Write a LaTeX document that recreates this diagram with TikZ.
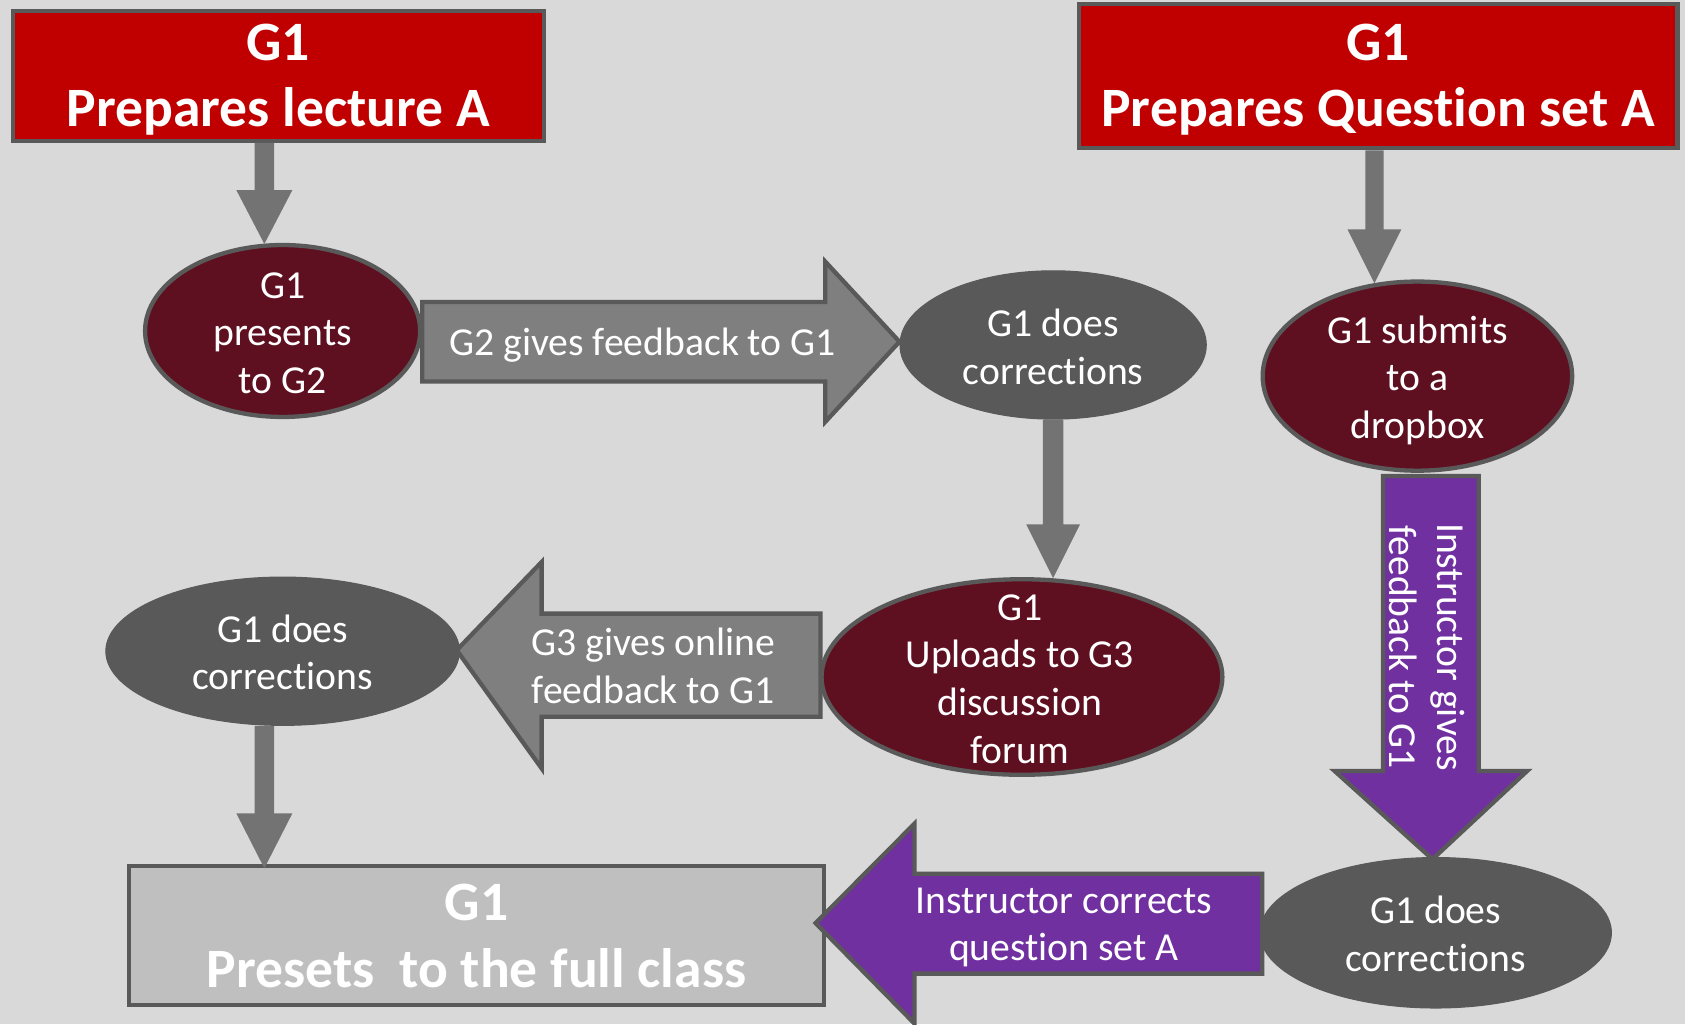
\documentclass[tikz,border=0pt]{standalone}
\usepackage{fontspec}
\setmainfont{Carlito}[Ligatures=NoCommon]
\usetikzlibrary{shapes.geometric,calc}

\definecolor{cBg}{HTML}{D9D9D9}
\definecolor{cRim}{HTML}{595959}
\definecolor{cRed}{HTML}{C00000}
\definecolor{cMaroon}{HTML}{5F1020}
\definecolor{cSlate}{HTML}{595959}
\definecolor{cBlock}{HTML}{7F7F7F}
\definecolor{cStem}{HTML}{737373}
\definecolor{cPurple}{HTML}{7030A0}
\definecolor{cPale}{HTML}{BFBFBF}

% Horizontal block arrow: style, tail (gives the axis), tip, shaft half-width, head half-width, head length
\newcommand\blockH[6]{%
  \path[#1] let \p1=(#2), \p2=(#3), \n1={ifthenelse(\x2>\x1,#6,-#6)} in
    (\x1,\y1+#4) -- (\x2-\n1,\y1+#4) -- (\x2-\n1,\y1+#5) -- (\p2)
    -- (\x2-\n1,\y1-#5) -- (\x2-\n1,\y1-#4) -- (\x1,\y1-#4) -- cycle;}
% Vertical block arrow, same arguments
\newcommand\blockV[6]{%
  \path[#1] let \p1=(#2), \p2=(#3), \n1={ifthenelse(\y2>\y1,#6,-#6)} in
    (\x1+#4,\y1) -- (\x1+#4,\y2-\n1) -- (\x1+#5,\y2-\n1) -- (\p2)
    -- (\x1-#5,\y2-\n1) -- (\x1-#4,\y2-\n1) -- (\x1-#4,\y1) -- cycle;}

\begin{document}
\begin{tikzpicture}[x=1pt,y=-1pt,
  titlebox/.style={rectangle, draw=cRim, line width=4pt, inner sep=0pt},
  titletext/.style={text=white, font=\fontsize{51.7}{61.5}\selectfont\bfseries, align=center, inner sep=0pt},
  oval/.style={ellipse, inner sep=0pt},
  maroonoval/.style={oval, fill=cMaroon, draw=cRim, line width=4pt},
  slateoval/.style={oval, fill=cSlate, draw=cSlate, line width=1pt},
  ovaltext/.style={text=white, font=\fontsize{36.9}{44.5}\selectfont, align=center, inner sep=0pt},
  stem/.style={fill=cStem},
  grayblock/.style={fill=cBlock, draw=cRim, line width=4pt},
  purpleblock/.style={fill=cPurple, draw=cRim, line width=4pt},
]
\useasboundingbox (0,0) rectangle (1568,953);
\fill[cBg] (0,0) rectangle (1568,953);

% headers and final box
\node[titlebox, fill=cRed, minimum width=494pt, minimum height=121pt] (box1) at (259,70.5) {};
\node[titlebox, fill=cRed, minimum width=557pt, minimum height=134pt] (box2) at (1282.5,71) {};
\node[titlebox, fill=cPale, minimum width=647pt, minimum height=129pt] (box3) at (443.5,870.5) {};
\node[titletext] (box1t) at ($(box1.center)+(0,4)$) {G1\\Prepares lecture A};
\node[titletext] (box2t) at ($(box2.center)+(0,3.5)$) {G1\\Prepares Question set A};
\node[titletext] (box3t) at ($(box3.center)+(0,0.5)$) {G1\\Presets\ \ to the full class};

% steps
\node[maroonoval, minimum width=256pt, minimum height=160pt] (e1) at (263,308) {};
\node[slateoval, minimum width=285pt, minimum height=138pt] (e2) at (980,321) {};
\node[maroonoval, minimum width=288pt, minimum height=176pt] (e3) at (1319,350) {};
\node[maroonoval, minimum width=373pt, minimum height=182pt] (e4) at (951,630) {};
\node[slateoval, minimum width=329pt, minimum height=138pt] (e5) at (263,606) {};
\node[slateoval, minimum width=327pt, minimum height=140pt] (e6) at (1336,868) {};

\node[ovaltext] (e1t) at ($(e1)+(0,2)$) {G1\\presents\\to G2};
\node[ovaltext] (e2t) at ($(e2)+(0,2)$) {G1 does\\corrections};
\node[ovaltext] (e3t) at ($(e3)+(0,4)$) {G1 submits\\to a\\dropbox};
\node[ovaltext] (e4t) at ($(e4)+(-2,2)$) {G1\\Uploads to G3\\discussion\\forum};
\node[ovaltext] (e5t) at ($(e5)+(0,1)$) {G1 does\\corrections};
\node[ovaltext] (e6t) at ($(e6)+(0,1)$) {G1 does\\corrections};

% thin connectors
\coordinate (a1s) at ($(box1.south)+(-13,0)$);
\coordinate (a1e) at ($(e1.north)+(-17,1)$);
\blockV{stem}{a1s}{a1e}{9}{26}{50}
\coordinate (a2s) at ($(box2.south)+(-3.5,0)$);
\coordinate (a2e) at ($(e3.north)+(-40,3.5)$);
\blockV{stem}{a2s}{a2e}{8.5}{25}{50}
\coordinate (a3s) at (e2.south);
\coordinate (a3e) at ($(e4.north)+(29,1)$);
\blockV{stem}{a3s}{a3e}{9.5}{25}{50}
\coordinate (a5s) at ($(e5.south)+(-17,0)$);
\coordinate (a5e) at ($(box3.north)+(-197.5,4)$);
\blockV{stem}{a5s}{a5e}{9}{26}{51}

% labelled block arrows
\coordinate (b2s) at ($(e1.east)+(0,10)$);
\coordinate (b2e) at ($(e2.west)+(0,-3)$);
\blockH{grayblock}{b2s}{b2e}{37}{74.5}{69}
\coordinate (b4s) at ($(e4.west)+(1,-11)$);
\coordinate (b4e) at ($(e5.east)+(-3,-1)$);
\blockH{grayblock}{b4s}{b4e}{48}{96}{79}
\coordinate (pls) at ($(e6.west)+(2.5,-8.5)$);
\coordinate (ple) at ($(box3.east)+(-10,-11.5)$);
\blockH{purpleblock}{pls}{ple}{46.5}{93}{92}
\coordinate (pds) at ($(e3.south)+(12.5,3)$);
\coordinate (pde) at ($(e6.north)+(-3,2)$);
\blockV{purpleblock}{pds}{pde}{44.5}{89.5}{82}

\node[ovaltext] (b2l) at (598,321) {G2 gives feedback to G1};
\node[ovaltext] (b4l) at (608,620) {G3 gives online\\feedback to G1};
\node[ovaltext] (pll) at (990,863) {Instructor corrects\\question set A};
\node[ovaltext, rotate=-90] (pdl) at (1328,602) {Instructor gives\\feedback to G1};
\end{tikzpicture}
\end{document}
